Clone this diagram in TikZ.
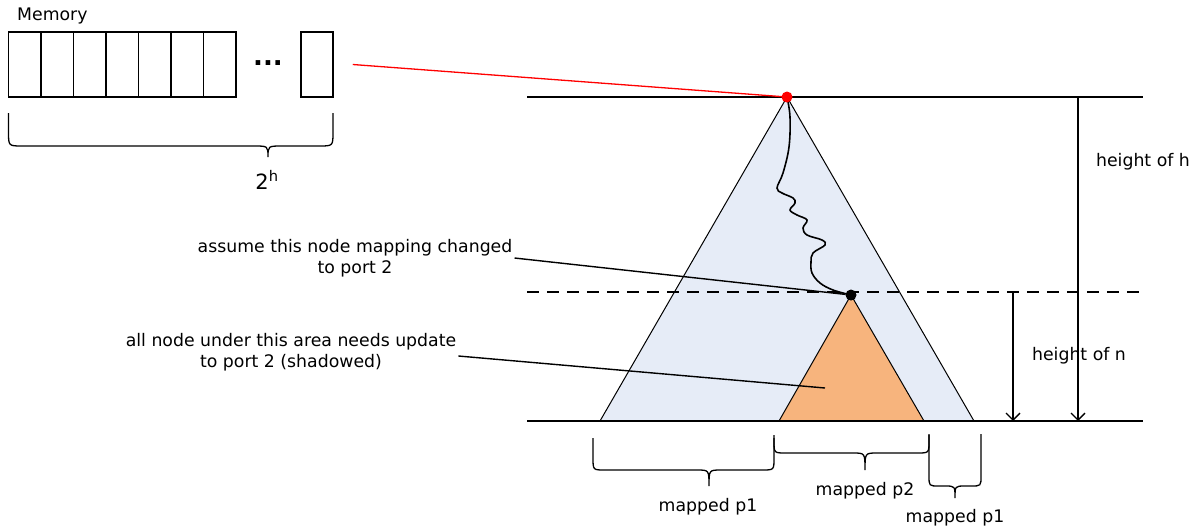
\documentclass[tikz,border=0pt]{standalone}
\usepackage{fontspec}
\setmainfont{DejaVu Sans}
\usetikzlibrary{arrows.meta}

% curly brace opening downwards: x1, x2, top y, bar y, tip x, tip y, corner radius
\newcommand{\downbrace}[7]{%
  \draw[bracestyle] ({#1},{#3}) -- ({#1},{#4-#7})
    .. controls ({#1},{#4}) .. ({#1+#7},{#4}) -- ({#5-#7},{#4})
    .. controls ({#5},{#4}) .. ({#5},{#6})
    .. controls ({#5},{#4}) .. ({#5+#7},{#4}) -- ({#2-#7},{#4})
    .. controls ({#2},{#4}) .. ({#2},{#4-#7}) -- ({#2},{#3});}

\begin{document}
\begin{tikzpicture}[x=1pt,y=-1pt,
  every node/.style={font=\fontsize{17.3}{21}\selectfont, inner sep=2pt},
  cell/.style={draw, line width=1.5pt, minimum width=32.5pt, minimum height=65pt, inner sep=0pt},
  bracestyle/.style={line width=1.3pt},
  level/.style={line width=1.4pt},
  measure/.style={line width=1.3pt, -{Straight Barb[length=7pt,width=14pt]}},
  callout/.style={line width=1.4pt},
  bluefill/.style={fill=bigtri, draw=black, line width=1pt},
  orangefill/.style={fill=subtri, draw=black, line width=1pt},
  dot/.style={circle, inner sep=0pt, minimum size=11pt}
]
\definecolor{bigtri}{HTML}{E6ECF7}
\definecolor{subtri}{HTML}{F7B47D}
\useasboundingbox (0,0) rectangle (1201,531);

% ---------- memory array ----------
\node[anchor=west, inner sep=0pt] (memlabel) at (17,16) {Memory};
\foreach \i in {0,...,6}
  \node[cell] (c\i) at ({24.75+\i*32.5},64.5) {};
\node[font=\fontsize{26}{26}\selectfont\bfseries] (dots) at (268,63) {...};
\node[cell, minimum width=32pt] (clast) at (317,64.5) {};
\downbrace{8.5}{333}{113}{146}{268}{157}{14}
\node[font=\fontsize{21}{22}\selectfont] (size) at (267,180) {2\textsuperscript{h}};

% ---------- tree ----------
\coordinate (apexpt) at (787,97);
\coordinate (subpt) at (851,295);
\draw[bluefill] (apexpt) -- (600,421) -- (974,421) -- cycle;
\draw[orangefill] (subpt) -- (779,421) -- (924,421) -- cycle;

% level lines
\coordinate (topL) at (527,97);   \coordinate (topR) at (1143,97);
\coordinate (midL) at (527,292);  \coordinate (midR) at (1143,292);
\coordinate (botL) at (527,421);  \coordinate (botR) at (1143,421);
\draw[level] (topL) -- (topR);
\draw[level] (botL) -- (botR);
\draw[level, dash pattern=on 12pt off 8pt] (midL) -- (midR);

% path from the root down to the changed node
\draw[line width=1.6pt] plot[smooth, tension=0.6] coordinates {
  (787,97) (790,117) (789,147) (783,173) (777,188) (782,193) (793,198)
  (795,203) (790,210) (797,215) (807,220) (803,228) (807,235) (822,240)
  (825,245) (813,253) (811,262) (812,273) (820,283) (833,290) (851,295)};

% memory base address points to the root
\coordinate (memptr) at ([xshift=19pt]clast.east);
\draw[red, line width=1.3pt] (memptr) -- (apexpt);
\node[dot, fill=red] (apex) at (apexpt) {};
\node[dot, fill=black] (sub) at (subpt) {};

% ---------- callouts ----------
\node[align=center] (note1) at (355,258) {assume this node mapping changed\\to port 2};
\node[align=center] (note2) at (291,352) {all node under this area needs update\\to port 2 (shadowed)};
\coordinate (shade) at (825,388);
\draw[callout] (note1.east) -- (sub);
\draw[callout] ([yshift=-4pt]note2.east) -- (shade);

% ---------- heights ----------
\coordinate (hTop) at (1078,97);  \coordinate (hBot) at (1078,421);
\coordinate (nTop) at (1013,292); \coordinate (nBot) at (1013,421);
\draw[measure] (hTop) -- (hBot);
\draw[measure] (nTop) -- (nBot);
\node (hlabel) at (1143,162) {height of h};
\node (nlabel) at (1079,356) {height of n};

% ---------- leaf ranges ----------
\downbrace{593}{774}{438}{470}{709}{486}{12}
\downbrace{774}{929}{435}{453}{865}{470}{12}
\downbrace{929}{981}{434}{486}{955}{498}{10}
\node (p1a) at (708,507) {mapped p1};
\node (p2) at (865,491) {mapped p2};
\node (p1b) at (955,518) {mapped p1};
\end{tikzpicture}
\end{document}
